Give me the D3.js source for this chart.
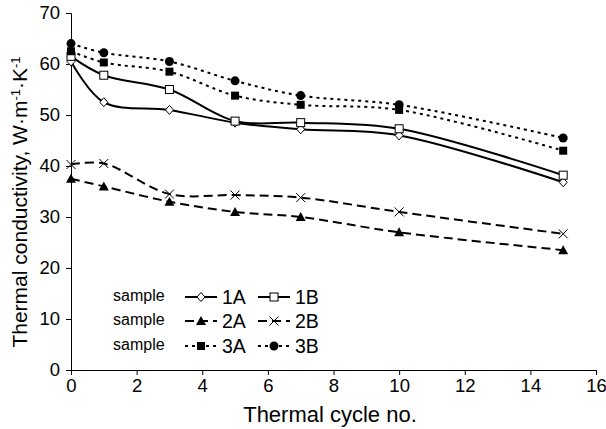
<!DOCTYPE html>
<html lang="en">
<head>
<meta charset="UTF-8" />
<title>Thermal conductivity vs thermal cycle</title>
<style>
  body { margin: 0; background: #fff; font-family: 'Liberation Sans', Arial, sans-serif; }
  svg { display: block; }
  .axis path, .axis line { stroke: #000; stroke-width: 1; }
  .axis text { font-size: 18.5px; fill: #000; font-family: 'Liberation Sans', Arial, sans-serif; }
</style>
</head>
<body>
<svg id="chart" width="606" height="429"></svg>
<script src="https://d3js.org/d3.v7.min.js"></script>
<script>
// data
const cycles = [0, 1, 3, 5, 7, 10, 15];
const s1A = [60.5, 52.5, 51.0, 48.5, 47.2, 46.0, 36.8];
const s1B = [61.5, 57.8, 55.0, 48.8, 48.5, 47.3, 38.2];
const s2A = [37.5, 36.0, 33.0, 31.0, 30.0, 27.0, 23.5];
const s2B = [40.3, 40.5, 34.5, 34.3, 33.8, 31.0, 26.7];
const s3A = [62.5, 60.3, 58.5, 53.8, 52.0, 51.0, 43.0];
const s3B = [64.0, 62.2, 60.5, 56.7, 53.8, 52.0, 45.5];
const seriesNames = ["1A", "1B", "2A", "2B", "3A", "3B"];
const xTicks = [0, 2, 4, 6, 8, 10, 12, 14, 16];
const yTicks = [0, 10, 20, 30, 40, 50, 60, 70];

const series = [
  { name: seriesNames[0], values: s1A, dash: null, marker: "diamond" },
  { name: seriesNames[1], values: s1B, dash: null, marker: "square" },
  { name: seriesNames[2], values: s2A, dash: "9,5", marker: "triangle" },
  { name: seriesNames[3], values: s2B, dash: "9,5", marker: "cross" },
  { name: seriesNames[4], values: s3A, dash: "3,4", marker: "squareFill" },
  { name: seriesNames[5], values: s3B, dash: "3,4", marker: "circle" }
];

const svg = d3.select("#chart");
const x = d3.scaleLinear().domain([0, 16]).range([71, 596]);
const y = d3.scaleLinear().domain([0, 70]).range([370, 13]);

// axes
svg.append("g").attr("class", "axis")
  .attr("transform", "translate(0,370)")
  .call(d3.axisBottom(x).tickValues(xTicks).tickSize(5).tickPadding(4).tickFormat(d3.format("d")));
svg.append("g").attr("class", "axis")
  .attr("transform", "translate(71,0)")
  .call(d3.axisLeft(y).tickValues(yTicks).tickSize(5).tickPadding(6).tickFormat(d3.format("d")));

// axis titles
svg.append("text")
  .attr("x", 330).attr("y", 422)
  .attr("text-anchor", "middle")
  .attr("font-size", 22)
  .text("Thermal cycle no.");

const yt = svg.append("text")
  .attr("transform", "translate(27,202) rotate(-90)")
  .attr("text-anchor", "middle")
  .attr("font-size", 21);
yt.append("tspan").text("Thermal conductivity, W·m");
yt.append("tspan").attr("dy", -7).attr("font-size", 13).text("-1");
yt.append("tspan").attr("dy", 7).text("·K");
yt.append("tspan").attr("dy", -7).attr("font-size", 13).text("-1");

// marker drawing
function drawMarker(g, type, cx, cy) {
  if (type === "diamond") {
    g.append("path").attr("d", `M${cx},${cy-4.5}L${cx+4},${cy}L${cx},${cy+4.5}L${cx-4},${cy}Z`)
      .attr("fill", "#fff").attr("stroke", "#000").attr("stroke-width", 1);
  } else if (type === "square") {
    g.append("rect").attr("x", cx - 4).attr("y", cy - 4).attr("width", 8).attr("height", 8)
      .attr("fill", "#fff").attr("stroke", "#000").attr("stroke-width", 1);
  } else if (type === "squareFill") {
    g.append("rect").attr("x", cx - 4).attr("y", cy - 4).attr("width", 8).attr("height", 8)
      .attr("fill", "#000");
  } else if (type === "triangle") {
    g.append("path").attr("d", `M${cx},${cy-5}L${cx+5},${cy+4}L${cx-5},${cy+4}Z`).attr("fill", "#000");
  } else if (type === "cross") {
    g.append("path").attr("d", `M${cx-4.5},${cy-4.5}L${cx+4.5},${cy+4.5}M${cx+4.5},${cy-4.5}L${cx-4.5},${cy+4.5}`)
      .attr("stroke", "#000").attr("stroke-width", 1);
  } else if (type === "circle") {
    g.append("circle").attr("cx", cx).attr("cy", cy).attr("r", 4.5).attr("fill", "#000");
  }
}

const line = d3.line()
  .x(d => x(d[0]))
  .y(d => y(d[1]))
  .curve(d3.curveCatmullRom.alpha(0.5));

series.forEach(s => {
  const pts = cycles.map((c, i) => [c, s.values[i]]);
  svg.append("path")
    .datum(pts)
    .attr("d", line)
    .attr("fill", "none")
    .attr("stroke", "#000")
    .attr("stroke-width", 2)
    .attr("stroke-dasharray", s.dash);
  const mg = svg.append("g");
  pts.forEach(p => drawMarker(mg, s.marker, x(p[0]), y(p[1])));
});

// legend
const legendRows = [[series[0], series[1]], [series[2], series[3]], [series[4], series[5]]];
const rowY = [297, 321, 346];
const colX = [185, 258];
legendRows.forEach((row, r) => {
  svg.append("text")
    .attr("x", 113).attr("y", rowY[r] + 4)
    .attr("font-size", 16)
    .text("sample");
  row.forEach((s, c) => {
    const x0 = colX[c];
    svg.append("line")
      .attr("x1", x0).attr("x2", x0 + 32)
      .attr("y1", rowY[r]).attr("y2", rowY[r])
      .attr("stroke", "#000").attr("stroke-width", 2)
      .attr("stroke-dasharray", s.dash);
    const g = svg.append("g");
    drawMarker(g, s.marker, x0 + 16, rowY[r]);
    svg.append("text")
      .attr("x", x0 + 37).attr("y", rowY[r] + 7)
      .attr("font-size", 19.5)
      .text(s.name);
  });
});
</script>
</body>
</html>
